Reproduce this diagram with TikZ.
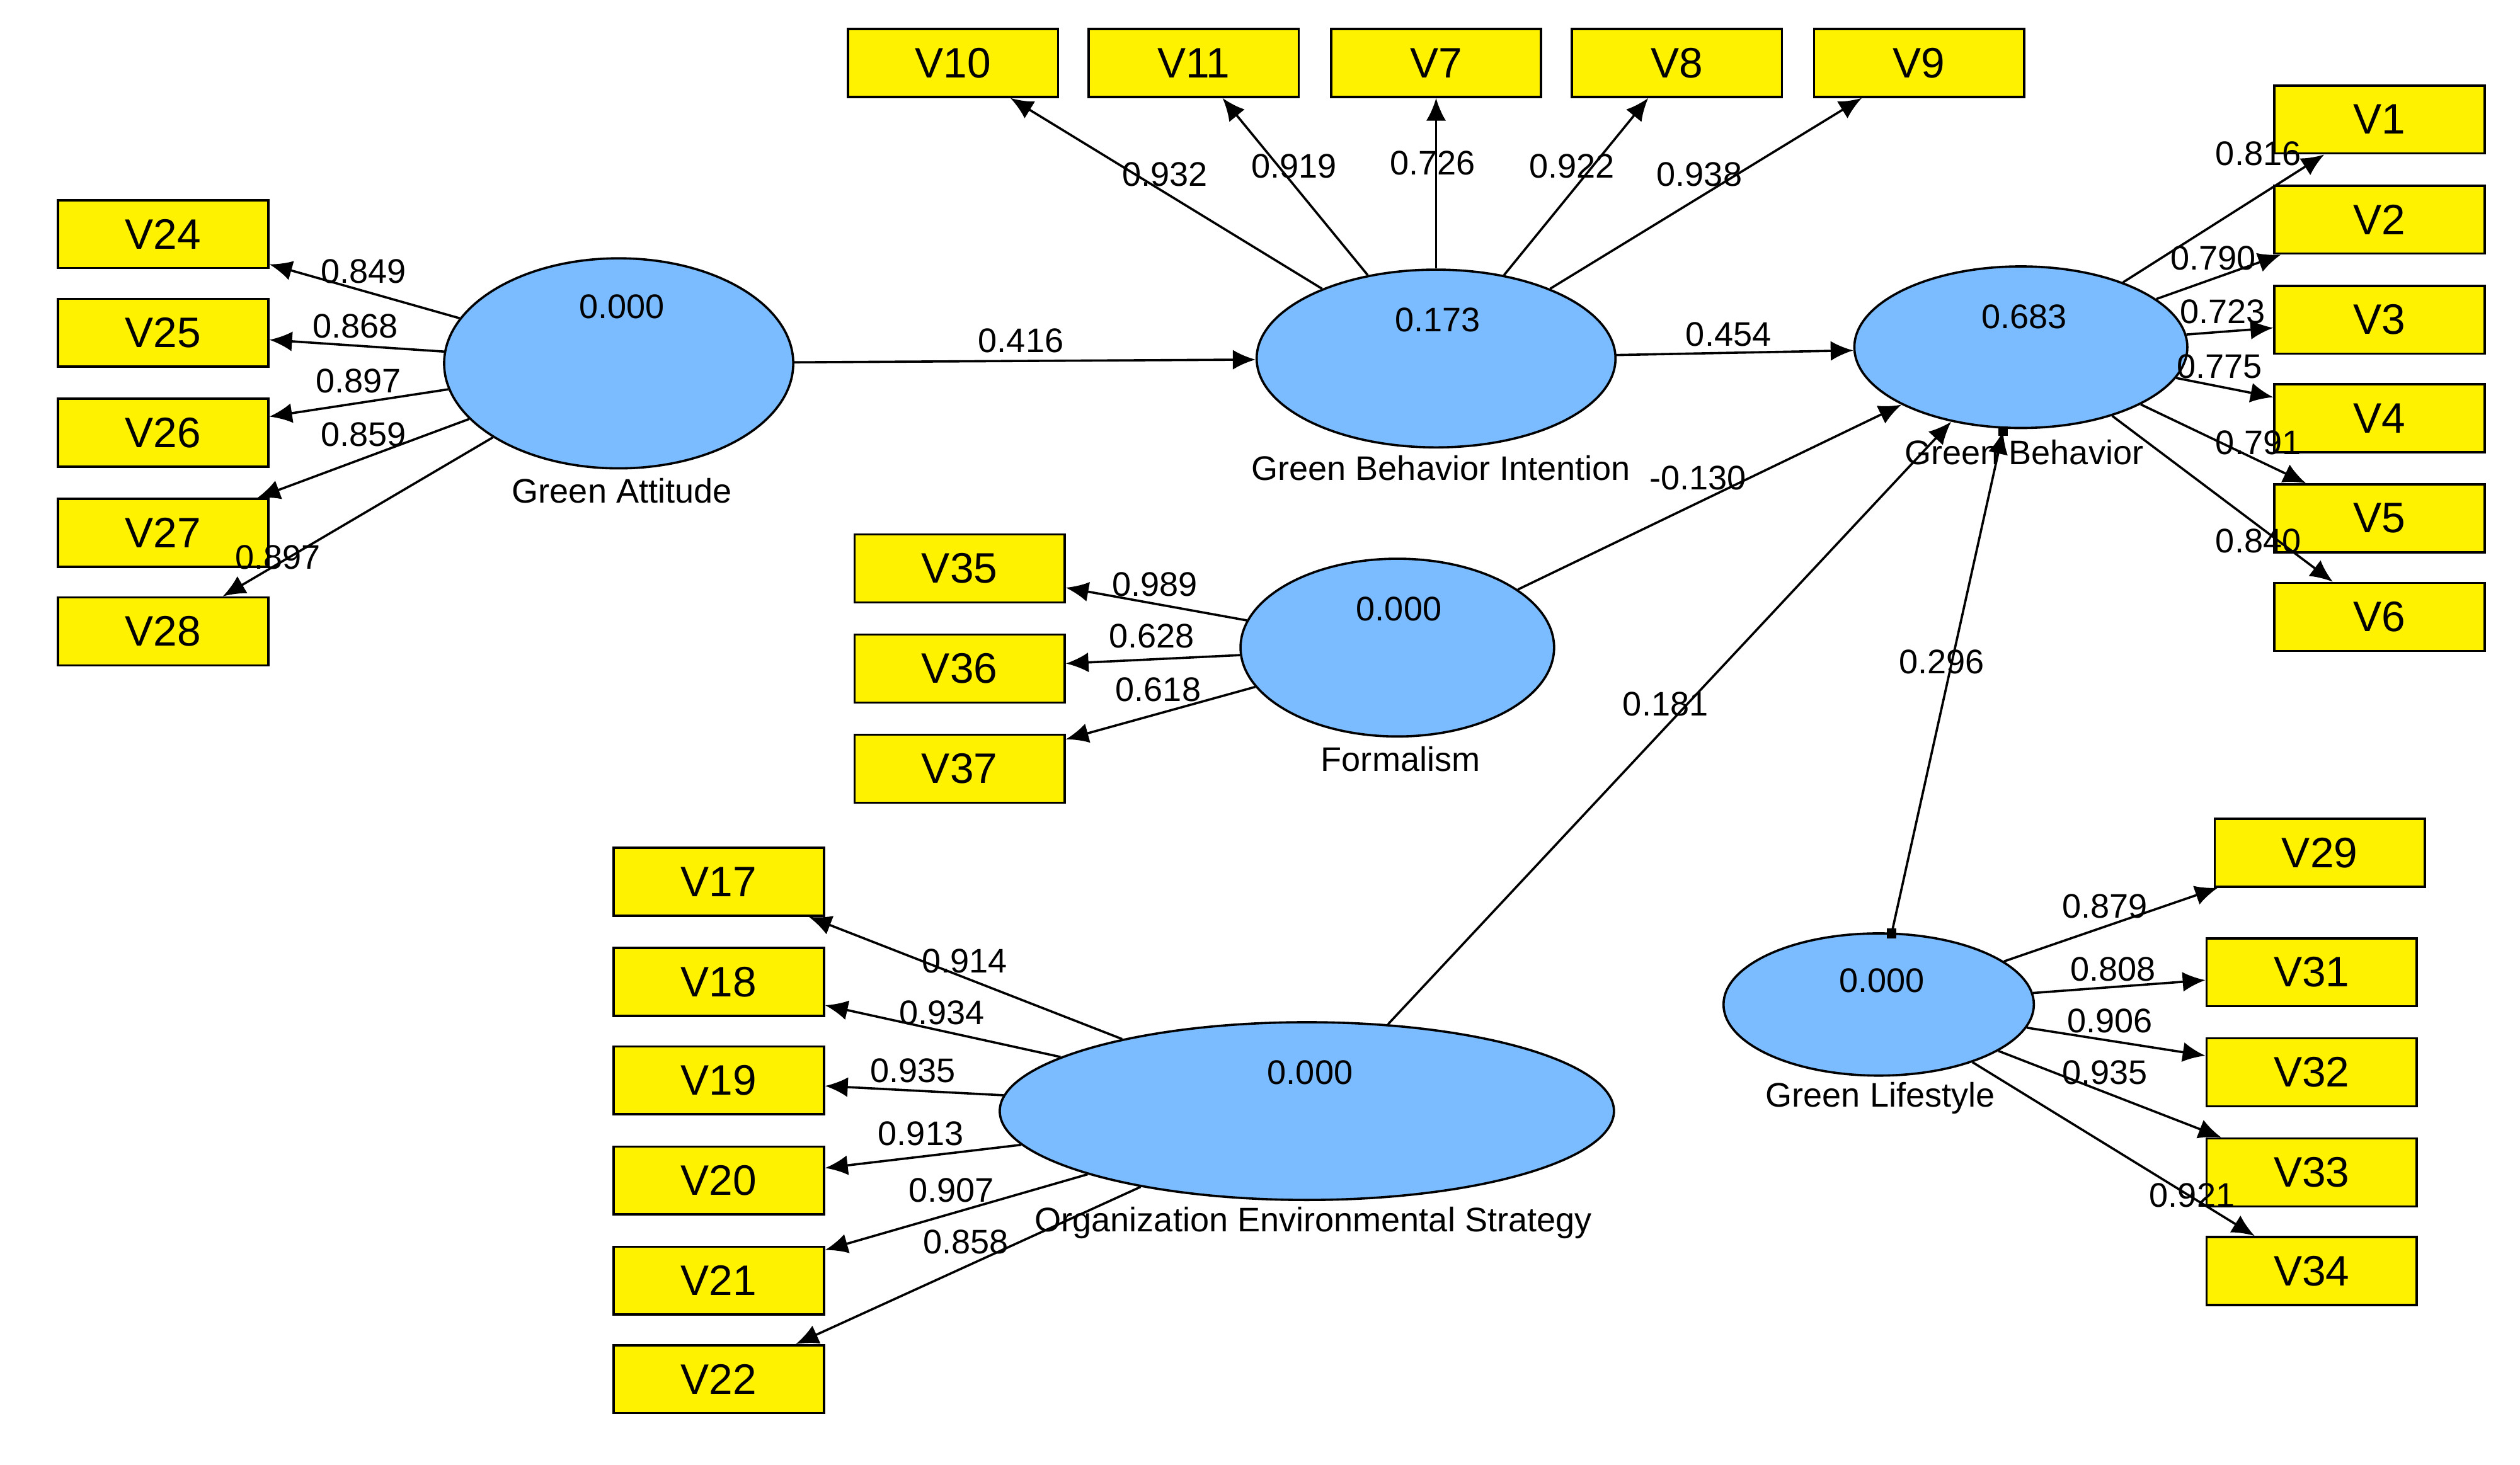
\documentclass[tikz,border=0pt]{standalone}
\usepackage{fontspec}
\setmainfont{Liberation Sans}
\usetikzlibrary{shapes.geometric,arrows.meta}
\definecolor{lvblue}{RGB}{122,188,255}
\tikzset{
  ind/.style={rectangle,fill=yellow,draw=black,minimum height=0.42cm,minimum width=1.3cm,inner sep=0pt,font=\fontsize{7.5}{8}\selectfont},
  lv/.style={ellipse,fill=lvblue,draw=black,inner sep=0pt},
  path/.style={-{Latex[length=4pt,width=3.5pt]},thin},
  coef/.style={font=\fontsize{6}{7}\selectfont,inner sep=0pt},
  lvname/.style={font=\fontsize{6}{7}\selectfont,inner sep=0pt},
}
\begin{document}
\begin{tikzpicture}[x=0.01cm,y=-0.01cm]
		\useasboundingbox (0,0) rectangle (1560,907);

		% latent variables
		\node[lv,minimum width=2.16cm,minimum height=1.3cm] (GA) at (383,225) {};
		\node[lv,minimum width=2.22cm,minimum height=1.1cm] (GBI) at (889,222) {};
		\node[lv,minimum width=2.06cm,minimum height=1.0cm] (GB) at (1251,215) {};
		\node[lv,minimum width=1.94cm,minimum height=1.1cm] (FO) at (865,401) {};
		\node[lv,minimum width=3.8cm,minimum height=1.1cm] (OES) at (809,688) {};
		\node[lv,minimum width=1.92cm,minimum height=0.88cm] (GL) at (1163,622) {};

		\node[coef] at (385,190) {0.000};
		\node[coef] at (890,198) {0.173};
		\node[coef] at (1253,196) {0.683};
		\node[coef] at (866,377) {0.000};
		\node[coef] at (811,664) {0.000};
		\node[coef] at (1165,607) {0.000};

		\node[lvname] at (385,304) {Green Attitude};
		\node[lvname] at (892,290) {Green Behavior Intention};
		\node[lvname] at (1253,280) {Green Behavior};
		\node[lvname] at (867,470) {Formalism};
		\node[lvname] at (813,757) {Organization Environmental Strategy};
		\node[lvname] at (1164,680) {Green Lifestyle};

		% indicators and loadings
		\foreach \n/\x/\y/\lv/\lx/\ly/\c in {
			V10/590/39/GBI/721/108/0.932, V11/739/39/GBI/801/103/0.919,
			V7/889/39/GBI/887/101/0.726, V8/1038/39/GBI/973/103/0.922,
			V9/1188/39/GBI/1052/108/0.938,
			V1/1473/74/GB/1398/95/0.816, V2/1473/136/GB/1370/160/0.790,
			V3/1473/198/GB/1376/193/0.723, V4/1473/259/GB/1374/227/0.775,
			V5/1473/321/GB/1398/274/0.791, V6/1473/382/GB/1398/335/0.840,
			V24/101/145/GA/225/168/0.849, V25/101/206/GA/220/202/0.868,
			V26/101/268/GA/222/236/0.897, V27/101/330/GA/225/269/0.859,
			V28/101/391/GA/172/345/0.897,
			V35/594/352/FO/715/362/0.989, V36/594/414/FO/713/394/0.628,
			V37/594/476/FO/717/427/0.618,
			V17/445/546/OES/597/595/0.914, V18/445/608/OES/583/627/0.934,
			V19/445/669/OES/565/663/0.935, V20/445/731/OES/570/702/0.913,
			V21/445/793/OES/589/737/0.907, V22/445/854/OES/598/769/0.858,
			V29/1436/528/GL/1303/561/0.879, V31/1431/602/GL/1308/600/0.808,
			V32/1431/664/GL/1306/632/0.906, V33/1431/726/GL/1303/664/0.935,
			V34/1431/787/GL/1357/740/0.921}
		{
			\node[ind] (\n) at (\x,\y) {\n};
			\draw[path] (\lv) -- (\n);
			\node[coef] at (\lx,\ly) {\c};
		}

		% structural paths
		\draw[path] (GA) -- (GBI);
		\draw[path] (GBI) -- (GB);
		\draw[path] (FO) -- (GB);
		\draw[path] (OES) -- (GB);
		\coordinate (gls) at (1171,578);
		\coordinate (gbe) at (1240,267);
		\draw[path] (gls) -- (gbe);
		\fill (gls) ++(-3,-3) rectangle ++(6,6);
		\fill (gbe) ++(-3,-3) rectangle ++(6,6);

		\node[coef] at (632,211) {0.416};
		\node[coef] at (1070,207) {0.454};
		\node[coef] at (1051,296) {-0.130};
		\node[coef] at (1031,436) {0.181};
		\node[coef] at (1202,410) {0.296};
	\end{tikzpicture}
\end{document}
